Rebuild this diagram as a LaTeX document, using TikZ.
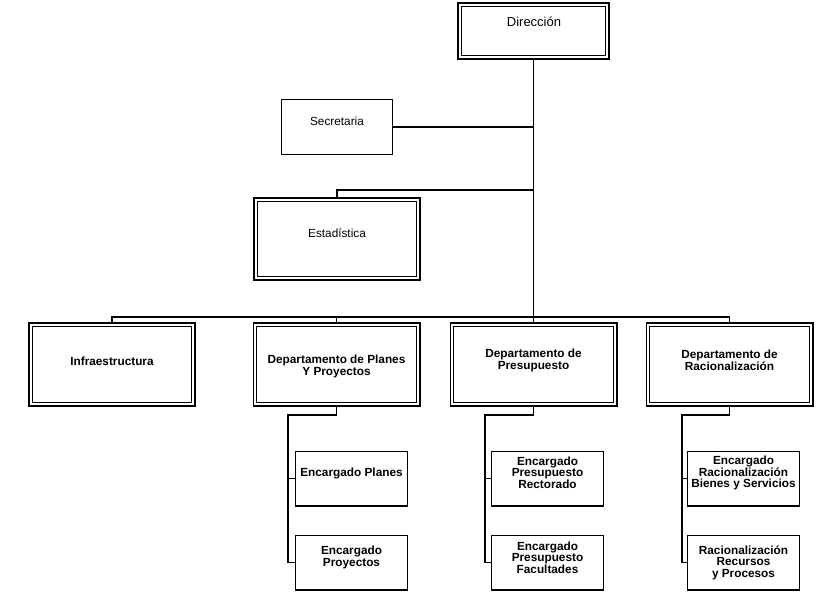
\documentclass[tikz,border=0pt]{standalone}
\usepackage{fontspec}
\setmainfont{Liberation Sans}
\begin{document}
\begin{tikzpicture}[x=1pt,y=-1pt,
  sbox/.style={draw, line width=1.1pt, inner sep=0pt, outer sep=0pt},
  dbox/.style={draw, line width=1.8pt, inner sep=0pt, outer sep=0pt,
    path picture={\draw[line width=0.9pt]
      ([shift={(3.4pt,-3.4pt)}]path picture bounding box.north west) rectangle
      ([shift={(-3.4pt,3.4pt)}]path picture bounding box.south east);}},
  lbl/.style={inner sep=0pt, align=center, font=\fontsize{11.8}{11.6}\selectfont\bfseries},
  plbl/.style={inner sep=0pt, align=center, font=\fontsize{11.8}{11.6}\selectfont},
  conn/.style={line width=1.2pt}]
\useasboundingbox[fill=white] (0,0) rectangle (820,600);

% boxes
\node[dbox, minimum width=151.2pt, minimum height=56.2pt] (dir) at (533.5,31) {};
\node[sbox, minimum width=110.9pt, minimum height=54.9pt] (sec) at (337,127) {};
\node[dbox, minimum width=166.2pt, minimum height=82.2pt] (est) at (337,239) {};
\node[dbox, minimum width=166.2pt, minimum height=83.2pt] (infra) at (112,364.5) {};
\node[dbox, minimum width=166.2pt, minimum height=83.2pt] (planes) at (336.5,364.5) {};
\node[dbox, minimum width=166.2pt, minimum height=83.2pt] (pres) at (533.5,364.5) {};
\node[dbox, minimum width=166.2pt, minimum height=83.2pt] (racio) at (729.5,364.5) {};
\node[sbox, minimum width=111.9pt, minimum height=54.9pt] (pe1) at (351.5,478.5) {};
\node[sbox, minimum width=111.9pt, minimum height=54.9pt] (pe2) at (351.5,562.5) {};
\node[sbox, minimum width=111.9pt, minimum height=54.9pt] (re1) at (547.5,478.5) {};
\node[sbox, minimum width=111.9pt, minimum height=54.9pt] (re2) at (547.5,562.5) {};
\node[sbox, minimum width=111.9pt, minimum height=54.9pt] (ra1) at (743.5,478.5) {};
\node[sbox, minimum width=111.9pt, minimum height=54.9pt] (ra2) at (743.5,562.5) {};

% texts
\node[plbl, font=\fontsize{13}{14}\selectfont] (tdir) at (534,22) {Dirección};
\node[plbl] (tsec) at (337,121) {Secretaria};
\node[plbl] (test) at (337,233) {Estadística};
\node[lbl] (tinfra) at (112,361) {Infraestructura};
\node[lbl] (tplanes) at (336.5,366.5) {Departamento de Planes\\Y Proyectos};
\node[lbl] (tpres) at (533.5,360.5) {Departamento de\\Presupuesto};
\node[lbl] (tracio) at (729.5,360.5) {Departamento de\\Racionalización};
\node[lbl] (tpe1) at (351.5,473) {Encargado Planes};
\node[lbl] (tpe2) at (351.5,557.5) {Encargado\\Proyectos};
\node[lbl] (tre1) at (547.5,472.5) {Encargado\\Presupuesto\\Rectorado};
\node[lbl] (tre2) at (547.5,557.5) {Encargado\\Presupuesto\\Facultades};
\node[lbl] (tra1) at (743.5,473) {Encargado\\Racionalización\\Bienes y Servicios};
\node[lbl] (tra2) at (743.5,562.5) {Racionalización\\Recursos\\y Procesos};

% connectors
\coordinate (eb) at (533.5,190);
\coordinate (bar) at (0,317);
\coordinate (pv) at (288,415);
\coordinate (rv) at (485,415);
\coordinate (av) at (682,415);
\draw[conn] (dir.south) -- (pres.north);
\draw[conn] (sec.east) -- (sec.east -| dir.south);
\draw[conn] (est.north) |- (eb);
\draw[conn] (infra.north) |- (racio.north |- bar) -- (racio.north);
\draw[conn] (planes.north) -- (planes.north |- bar);
\draw[conn] (planes.south) |- (pv) |- (pe2.west);
\draw[conn] (pe1.west) -- (pe1.west -| pv);
\draw[conn] (pres.south) |- (rv) |- (re2.west);
\draw[conn] (re1.west) -- (re1.west -| rv);
\draw[conn] (racio.south) |- (av) |- (ra2.west);
\draw[conn] (ra1.west) -- (ra1.west -| av);
\end{tikzpicture}
\end{document}
